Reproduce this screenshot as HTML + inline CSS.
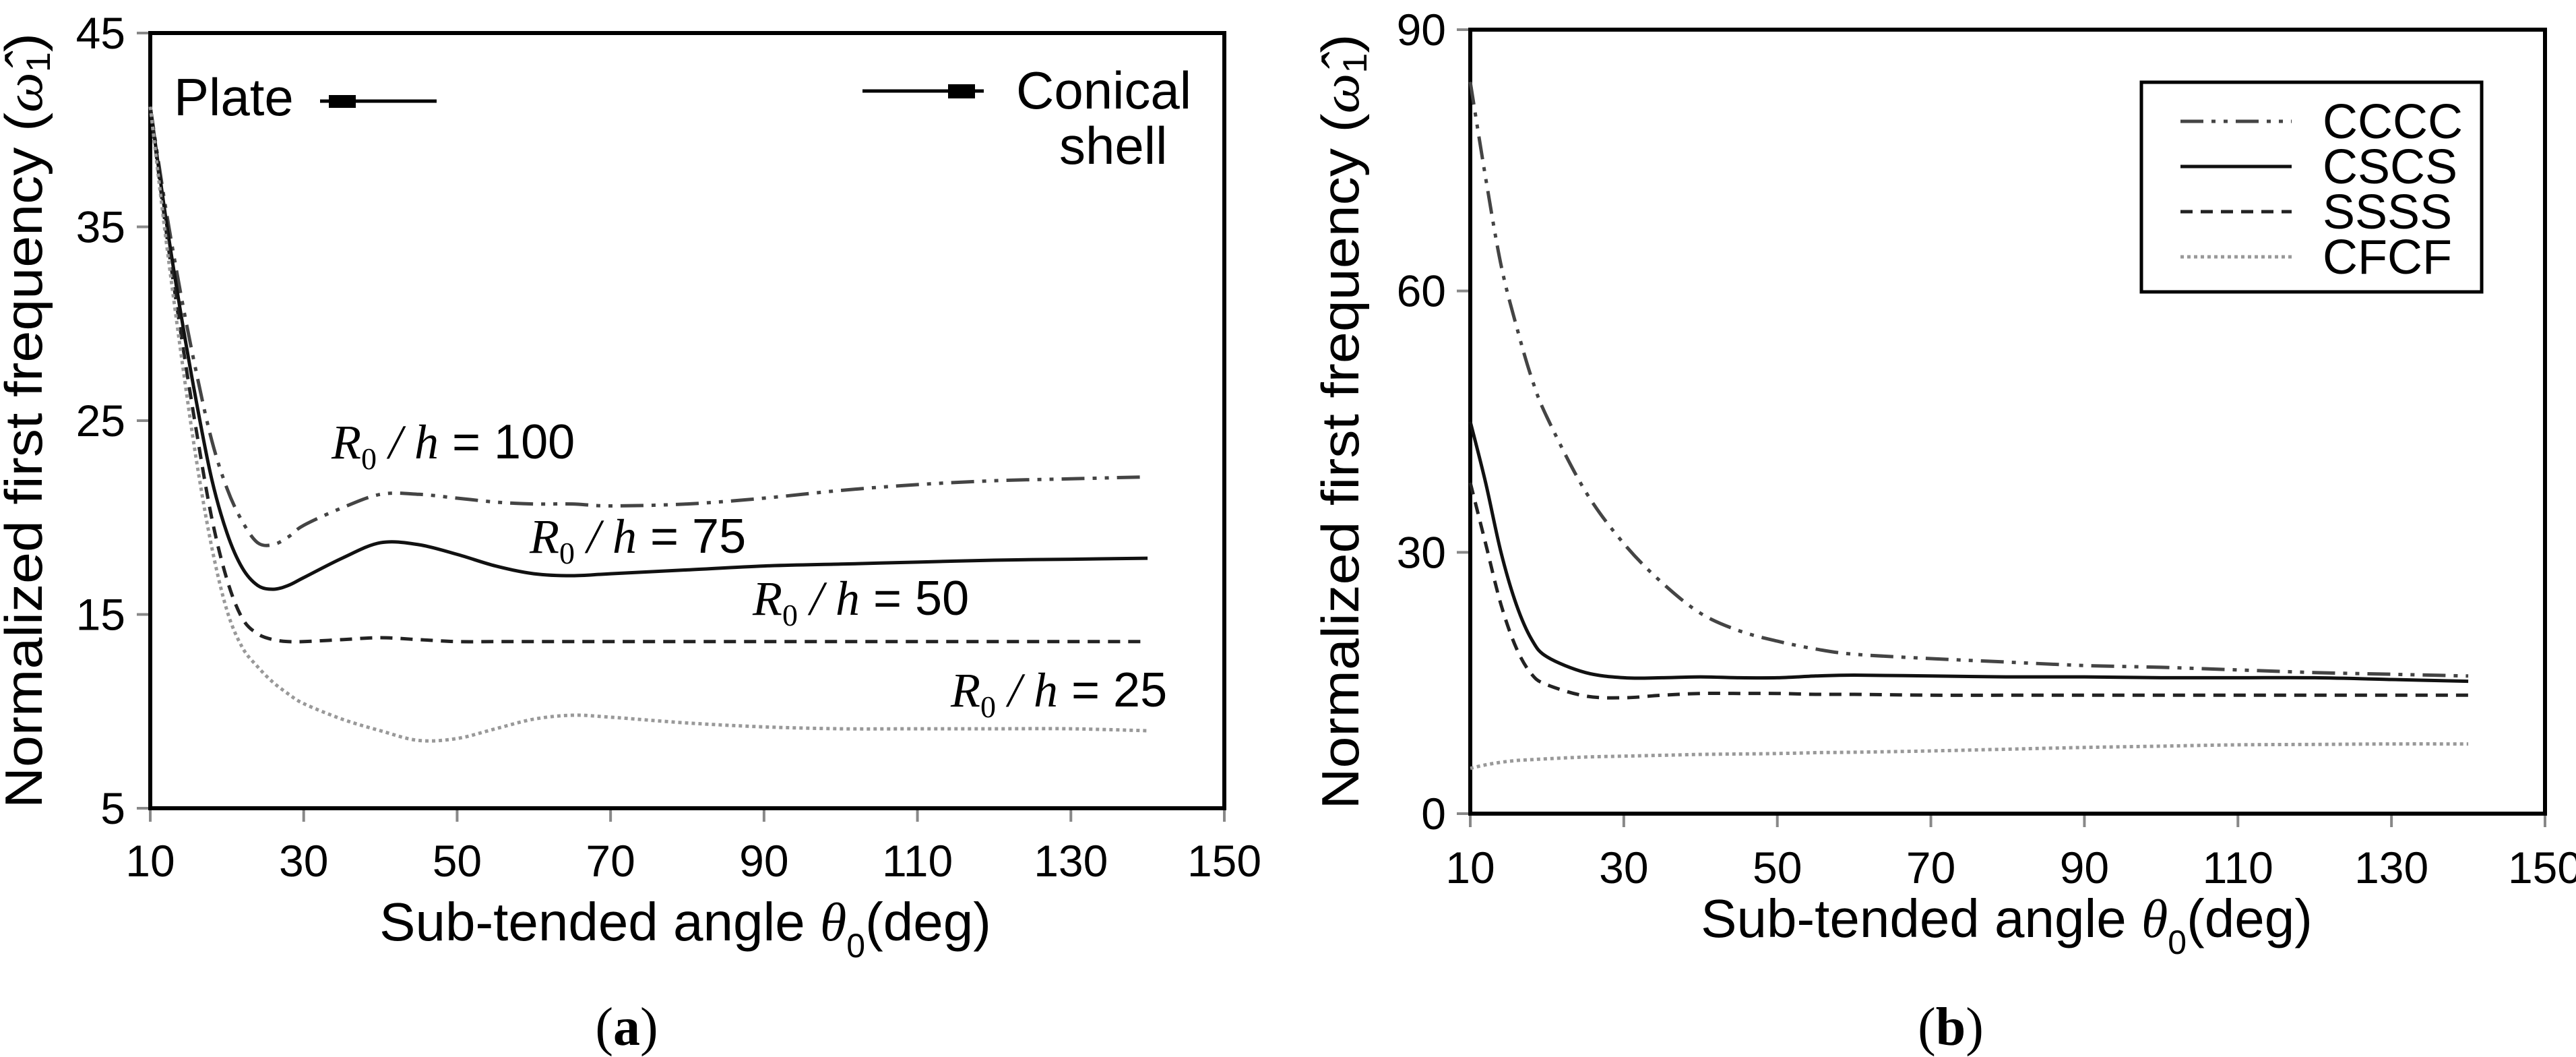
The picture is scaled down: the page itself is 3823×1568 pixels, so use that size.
<!DOCTYPE html>
<html><head><meta charset="utf-8"><style>
html,body{margin:0;padding:0;background:#fff;}
svg{display:block;}
text{font-family:"Liberation Sans","DejaVu Sans",sans-serif;fill:#000;}
.it{font-family:"Liberation Serif",serif;font-style:italic;}
</style></head><body>
<svg id="fig" width="3823" height="1568" viewBox="0 0 3823 1568" xmlns="http://www.w3.org/2000/svg">
<g id="pa"></g>
<g id="pb"></g>
</svg>
<script>
// ---- Panel (a) data ----
const aX = [10,12,14,16,18,20,22,24,26,28,30,35,40,45,50,55,60,65,70,80,90,100,110,120,130,140];
const aR100 = [41.2,36,31.5,27.5,24,21.5,19.8,18.7,18.6,19,19.6,20.5,21.2,21.2,21.0,20.8,20.7,20.7,20.6,20.7,21.0,21.4,21.7,21.9,22.0,22.1];
const aR75 = [41.2,35.5,30.5,26,22,19.2,17.4,16.5,16.3,16.5,16.9,17.9,18.7,18.6,18.1,17.5,17.1,17.0,17.1,17.3,17.5,17.6,17.7,17.8,17.85,17.9];
const aR50 = [41.2,35,29.5,24.5,20,16.8,14.8,14.0,13.7,13.6,13.6,13.7,13.8,13.7,13.6,13.6,13.6,13.6,13.6,13.6,13.6,13.6,13.6,13.6,13.6,13.6];
const aR25 = [41.2,34.5,28.5,23,18.5,15.2,13.3,12.3,11.5,10.9,10.4,9.6,9.0,8.5,8.6,9.1,9.6,9.8,9.7,9.4,9.2,9.1,9.1,9.1,9.1,9.0];
const aXTicks = [10,30,50,70,90,110,130,150];
const aYTicks = [5,15,25,35,45];
// ---- Panel (b) data ----
const bX = [10,12,14,16,18,20,25,30,35,40,45,50,55,60,70,80,90,100,110,120,130,140];
const bCCCC = [84,73,63,56,50,45.5,37,31,26.5,23,21,19.8,18.9,18.3,17.8,17.4,17.0,16.8,16.5,16.2,16.0,15.8];
const bCSCS = [45,38,30,24,20,18,16.2,15.6,15.6,15.7,15.6,15.6,15.8,15.9,15.8,15.7,15.7,15.6,15.6,15.6,15.4,15.2];
const bSSSS = [38,31,24,19,16,14.8,13.5,13.3,13.6,13.8,13.8,13.8,13.7,13.7,13.6,13.6,13.6,13.6,13.6,13.6,13.6,13.6];
const bCFCF = [5.2,5.6,5.9,6.1,6.2,6.3,6.5,6.6,6.7,6.8,6.85,6.9,7.0,7.05,7.2,7.4,7.6,7.75,7.9,7.95,8.0,8.0];
const bXTicks = [10,30,50,70,90,110,130,150];
const bYTicks = [0,30,60,90];
const bLegend = ["CCCC","CSCS","SSSS","CFCF"];

const NS="http://www.w3.org/2000/svg";
function mk(parent,tag,attrs,txt){const e=document.createElementNS(NS,tag);for(const k in attrs)e.setAttribute(k,attrs[k]);if(txt!==undefined)e.textContent=txt;parent.appendChild(e);return e;}
function smooth(xs,ys,sx,sy){
  const p=xs.map((x,i)=>[sx(x),sy(ys[i])]);
  let d="M"+p[0][0].toFixed(1)+","+p[0][1].toFixed(1);
  for(let i=0;i<p.length-1;i++){
    const p0=p[Math.max(0,i-1)],p1=p[i],p2=p[i+1],p3=p[Math.min(p.length-1,i+2)];
    const c1=[p1[0]+(p2[0]-p0[0])/6,p1[1]+(p2[1]-p0[1])/6];
    const c2=[p2[0]-(p3[0]-p1[0])/6,p2[1]-(p3[1]-p1[1])/6];
    d+="C"+c1[0].toFixed(1)+","+c1[1].toFixed(1)+" "+c2[0].toFixed(1)+","+c2[1].toFixed(1)+" "+p2[0].toFixed(1)+","+p2[1].toFixed(1);
  }
  return d;
}
const styles={
  dashdot:{stroke:"#444",dash:"34,12,6,12,6,12"},
  solid:{stroke:"#111",dash:""},
  dashed:{stroke:"#222",dash:"18,12"},
  dotted:{stroke:"#999",dash:"5,5"}
};
function panel(g,L,R,T,B,xmin,xmax,ymin,ymax,xt,yt,ylabRight,xLabY,yTitleX,xTitleX,xTitleY,capX,cap){
  const sx=v=>L+(v-xmin)/(xmax-xmin)*(R-L);
  const sy=v=>B-(v-ymin)/(ymax-ymin)*(B-T);
  xt.forEach(v=>{
    const t=mk(g,"line",{x1:sx(v),x2:sx(v),y1:B,y2:B+20,stroke:"#888","stroke-width":4});
    
    
    const l=mk(g,"text",{x:sx(v),y:xLabY,"font-size":66,"text-anchor":"middle"},String(v));
    
    
  });
  yt.forEach(v=>{
    const t=mk(g,"line",{x1:L-20,x2:L,y1:sy(v),y2:sy(v),stroke:"#888","stroke-width":4});
    
    
    const l=mk(g,"text",{x:ylabRight,y:sy(v)+23,"font-size":66,"text-anchor":"end"},String(v));
    
    
  });
  const f=mk(g,"rect",{x:L,y:T,width:R-L,height:B-T,fill:"none",stroke:"#000","stroke-width":6});
  
  
  const cy=(T+B)/2;
  const yt1=mk(g,"text",{x:yTitleX,y:cy,"font-size":78,"text-anchor":"middle",transform:"rotate(-90 "+yTitleX+" "+cy+")",textLength:1150,lengthAdjust:"spacingAndGlyphs"});
  
  
  yt1.innerHTML='Normalized first frequency (<tspan class="it">ω̂</tspan><tspan font-size="50" dy="12">1</tspan><tspan dy="-12">)</tspan>';
  const xtt=mk(g,"text",{x:xTitleX,y:xTitleY,"font-size":80,"text-anchor":"middle"});
  
  
  xtt.innerHTML='Sub-tended angle <tspan class="it">θ</tspan><tspan font-size="50" dy="25">0</tspan><tspan dy="-25">(deg)</tspan>';
  const c=mk(g,"text",{x:capX,y:1550,"font-size":80,"text-anchor":"middle",style:"font-family:'Liberation Serif',serif"});
  
  
  c.innerHTML='<tspan>(</tspan><tspan font-weight="bold">'+cap+'</tspan><tspan>)</tspan>';
  return {sx,sy};
}
function series(g,xs,ys,st,sc,name){
  const p=mk(g,"path",{d:smooth(xs,ys,sc.sx,sc.sy),fill:"none",stroke:st.stroke,"stroke-width":5,"stroke-dasharray":st.dash,"stroke-linejoin":"round"});
  
  
}
// Panel a
const ga=document.getElementById('pa');
const sa=panel(ga,223,1817,49,1199,10,150,5,45,aXTicks,aYTicks,186,1300,62,1017,1395,930,"a");
series(ga,aX,aR100,styles.dashdot,sa,'series-r0h-100');
series(ga,aX,aR75,styles.solid,sa,'series-r0h-75');
series(ga,aX,aR50,styles.dashed,sa,'series-r0h-50');
series(ga,aX,aR25,styles.dotted,sa,'series-r0h-25');
function rlab(g,x,y,val,name){
  const t=mk(g,"text",{x:x,y:y,"font-size":72,class:"it"});
  
  
  t.innerHTML='R<tspan font-size="46" dy="16" font-style="normal">0</tspan><tspan dy="-16"> / h</tspan><tspan font-style="normal" style="font-family:\'Liberation Sans\',sans-serif"> = '+val+'</tspan>';
}
rlab(ga,492,680,"100",'label-r0h-100');
rlab(ga,786,820,"75",'label-r0h-75');
rlab(ga,1117,912,"50",'label-r0h-50');
rlab(ga,1411,1048,"25",'label-r0h-25');
let t;
t=mk(ga,"text",{x:258,y:171,"font-size":78},"Plate");


t=mk(ga,"line",{x1:475,x2:648,y1:150,y2:150,stroke:"#000","stroke-width":5});


t=mk(ga,"rect",{x:488,y:141,width:40,height:19,fill:"#000"});


t=mk(ga,"text",{x:1508,y:161,"font-size":78},"Conical");


t=mk(ga,"text",{x:1572,y:243,"font-size":78},"shell");


t=mk(ga,"line",{x1:1280,x2:1460,y1:135,y2:135,stroke:"#000","stroke-width":5});


t=mk(ga,"rect",{x:1407,y:125,width:40,height:21,fill:"#000"});


// Panel b
const gb=document.getElementById('pb');
const sb=panel(gb,2182,3777,44,1207,10,150,0,90,bXTicks,bYTicks,2146,1310,2016,2978,1390,2895,"b");
series(gb,bX,bCCCC,styles.dashdot,sb,'series-cccc');
series(gb,bX,bCSCS,styles.solid,sb,'series-cscs');
series(gb,bX,bSSSS,styles.dashed,sb,'series-ssss');
series(gb,bX,bCFCF,styles.dotted,sb,'series-cfcf');
t=mk(gb,"rect",{x:3178,y:122,width:505,height:311,fill:"#fff",stroke:"#000","stroke-width":5});


const lst=[styles.dashdot,styles.solid,styles.dashed,styles.dotted];
bLegend.forEach((n,i)=>{
  const y=180+i*67;
  const l=mk(gb,"line",{x1:3236,x2:3401,y1:y,y2:y,stroke:lst[i].stroke,"stroke-width":5,"stroke-dasharray":lst[i].dash});
  
  
  const tx=mk(gb,"text",{x:3447,y:y+25,"font-size":72},n);
  
  
});
</script>
</body></html>
